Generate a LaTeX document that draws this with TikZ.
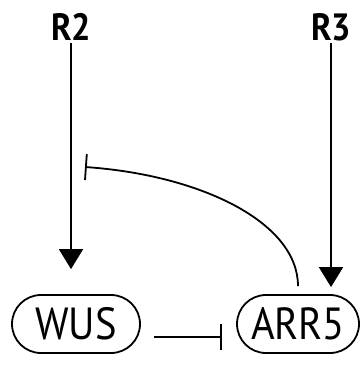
\documentclass[tikz,border=0pt]{standalone}
\usepackage{fontspec}
\setmainfont{PT Sans}
\newfontfamily\genefont[FakeStretch=0.9]{PT Sans}
\newfontfamily\regfont[FakeStretch=0.9]{PT Sans Bold}
\usetikzlibrary{arrows.meta,shapes.misc,calc}
\begin{document}
\begin{tikzpicture}[x=1pt,y=-1pt,
  gene/.style={draw,line width=1.8pt,rounded rectangle,minimum height=58pt,
    inner sep=0pt,font=\genefont\fontsize{45}{45}\selectfont},
  regulator/.style={font=\regfont\fontsize{38}{38}\selectfont,inner sep=2pt},
  activates/.style={line width=1.8pt,-{Triangle[width=24pt,length=20pt]}},
  represses/.style={line width=1.8pt,-{Bar[width=26pt,line width=1.8pt]}}]
  \useasboundingbox (0,0) rectangle (360,367);
  % regulators
  \node[regulator] (R2) at (71,27) {R2};
  \node[regulator] (R3) at (331,27) {R3};
  % genes
  \node[gene,minimum width=128pt] (WUS) at (76,324) {WUS};
  \node[gene,minimum width=122pt] (ARR5) at (298,324) {ARR5};
  % target of the ARR5 feedback on the R2 input
  \coordinate (block) at (85,167);
  % activation arrows
  \draw[activates,shorten >=25pt] (R2.south) -- (R2.south |- WUS.north);
  \draw[activates,shorten >=7pt] (R3.south) -- (R3.south |- ARR5.north);
  % repression of ARR5 by WUS
  \draw[represses] ($(WUS.east)+(13,13)$) -- ($(ARR5.west)+(-14,13)$);
  % ARR5 feedback
  \draw[represses] ($(ARR5.north)+(0,-8)$) .. controls (298,222) and (200,175) .. (block);
\end{tikzpicture}
\end{document}
